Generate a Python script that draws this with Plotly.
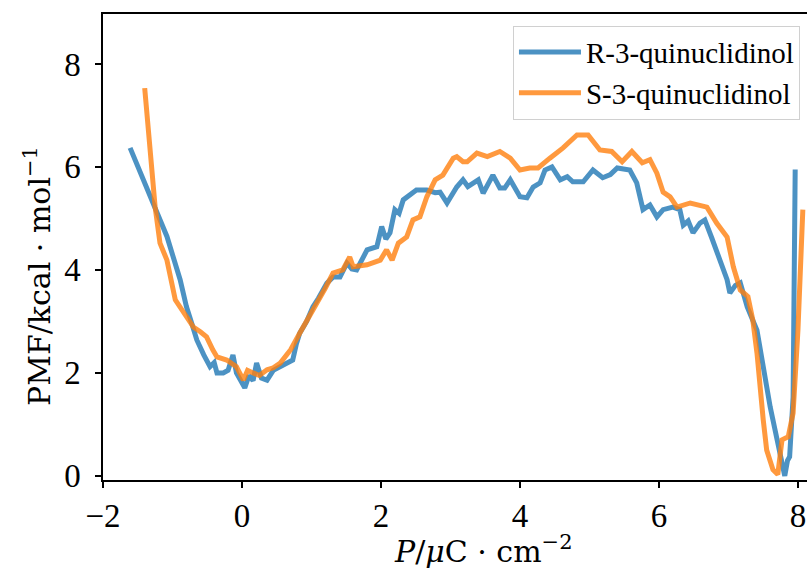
import plotly.graph_objects as go

r_x = [-1.61, -1.28, -1.08, -0.89, -0.80, -0.72, -0.65, -0.55, -0.46, -0.40, -0.36, -0.27, -0.20, -0.13,
       -0.08, 0.04, 0.10, 0.16, 0.21, 0.28, 0.36, 0.45, 0.55, 0.63, 0.73, 0.78, 0.83, 0.93, 1.02, 1.10,
       1.22, 1.31, 1.41, 1.51, 1.58, 1.65, 1.80, 1.94, 2.01, 2.07, 2.13, 2.20, 2.26, 2.32, 2.42, 2.51,
       2.66, 2.78, 2.85, 2.95, 3.09, 3.18, 3.25, 3.32, 3.40, 3.47, 3.61, 3.71, 3.78, 3.86, 4.00, 4.10,
       4.19, 4.29, 4.36, 4.46, 4.58, 4.68, 4.76, 4.91, 5.00, 5.05, 5.19, 5.30, 5.40, 5.58, 5.68, 5.77,
       5.87, 5.97, 6.06, 6.20, 6.30, 6.35, 6.42, 6.49, 6.59, 6.66, 6.76, 6.82, 6.88, 6.98, 7.02, 7.10,
       7.17, 7.27, 7.41, 7.50, 7.60, 7.70, 7.75, 7.78, 7.81, 7.85, 7.88, 7.93, 7.96]
r_y = [6.37, 5.30, 4.65, 3.81, 3.29, 2.95, 2.64, 2.35, 2.12, 2.20, 2.00, 2.00, 2.05, 2.35,
       2.00, 1.71, 1.95, 1.85, 2.19, 1.90, 1.86, 2.05, 2.12, 2.20, 2.25, 2.55, 2.77, 3.00, 3.28, 3.45,
       3.74, 3.86, 3.86, 4.13, 4.02, 4.00, 4.39, 4.45, 4.84, 4.60, 4.72, 5.17, 5.10, 5.36, 5.45, 5.55,
       5.55, 5.50, 5.51, 5.30, 5.61, 5.75, 5.62, 5.69, 5.75, 5.49, 5.84, 5.59, 5.59, 5.75, 5.42, 5.40,
       5.61, 5.69, 5.94, 6.00, 5.75, 5.81, 5.71, 5.71, 5.84, 5.94, 5.79, 5.85, 5.98, 5.94, 5.69, 5.17,
       5.26, 5.03, 5.17, 5.22, 5.17, 4.87, 4.95, 4.72, 4.91, 4.97, 4.62, 4.40, 4.13, 3.81, 3.55, 3.70,
       3.75, 3.28, 2.83, 2.12, 1.34, 0.70, 0.40, 0.17, 0.00, 0.30, 0.37, 1.53, 5.95]

s_x = [-1.40, -1.25, -1.18, -1.08, -0.96, -0.84, -0.70, -0.60, -0.51, -0.42, -0.36, -0.22, -0.08,
       0.02, 0.08, 0.16, 0.25, 0.36, 0.45, 0.55, 0.70, 0.83, 0.95, 1.08, 1.20, 1.31, 1.45, 1.55, 1.60,
       1.80, 1.99, 2.08, 2.16, 2.25, 2.37, 2.46, 2.56, 2.66, 2.78, 2.89, 3.04, 3.09, 3.18, 3.24, 3.38,
       3.53, 3.71, 3.86, 4.00, 4.14, 4.26, 4.43, 4.62, 4.82, 4.98, 5.15, 5.32, 5.47, 5.61, 5.76, 5.87,
       5.97, 6.06, 6.16, 6.26, 6.45, 6.60, 6.69, 6.83, 6.98, 7.07, 7.17, 7.28, 7.35, 7.41, 7.45, 7.50,
       7.55, 7.64, 7.71, 7.77, 7.86, 7.93, 8.00, 8.07]
s_y = [7.53, 5.22, 4.52, 4.19, 3.42, 3.16, 2.89, 2.80, 2.70, 2.45, 2.31, 2.25, 2.12,
       1.86, 2.05, 2.00, 1.95, 2.06, 2.10, 2.19, 2.45, 2.77, 3.05, 3.36, 3.65, 3.94, 4.00, 4.25, 4.06,
       4.10, 4.19, 4.39, 4.19, 4.52, 4.64, 4.97, 5.03, 5.42, 5.75, 5.84, 6.17, 6.20, 6.10, 6.10, 6.27,
       6.20, 6.30, 6.17, 5.94, 5.98, 5.98, 6.17, 6.37, 6.62, 6.62, 6.33, 6.30, 6.10, 6.30, 6.08, 6.14,
       5.88, 5.51, 5.42, 5.22, 5.30, 5.25, 5.22, 4.91, 4.64, 4.06, 3.61, 3.48, 3.03, 2.39, 1.73, 1.09,
       0.50, 0.12, 0.03, 0.70, 0.76, 1.22, 2.84, 5.17]

series_names = ["R-3-quinuclidinol", "S-3-quinuclidinol"]
x_ticks = [-2, 0, 2, 4, 6, 8]
y_ticks = [0, 2, 4, 6, 8]
x_title = "<i>P</i>/<i>μ</i>C \u00b7 cm<sup>\u22122</sup>"
y_title = "PMF/kcal \u00b7 mol<sup>\u22121</sup>"

FONT = "Liberation Serif"
TFONT = "DejaVu Serif"

fig = go.Figure()
fig.add_trace(go.Scatter(x=r_x, y=r_y, mode="lines", name=series_names[0],
                         line=dict(color="rgba(31,119,180,0.8)", width=5)))
fig.add_trace(go.Scatter(x=s_x, y=s_y, mode="lines", name=series_names[1],
                         line=dict(color="rgba(255,127,14,0.8)", width=5)))

fig.update_layout(
    width=807, height=585,
    margin=dict(l=103, r=0, t=14, b=105),
    paper_bgcolor="white", plot_bgcolor="white",
    font=dict(family=FONT, color="black"),
    showlegend=True,
    legend=dict(x=0.99, y=0.975, xanchor="right", yanchor="top",
                bgcolor="rgba(255,255,255,0.8)", bordercolor="#d0d0d0", borderwidth=1,
                itemwidth=62, tracegroupgap=0,
                font=dict(family=FONT, size=29)),
    xaxis=dict(range=[-2, 8.13], tickvals=x_ticks, ticktext=["\u22122" if v < 0 else str(v) for v in x_ticks],
               showgrid=False, zeroline=False, showline=True, linecolor="black", linewidth=1.5,
               mirror=True, ticks="outside", ticklen=6, tickwidth=1.5, tickcolor="black",
               tickfont=dict(family=FONT, size=33)),
    yaxis=dict(range=[-0.08, 8.97], tickvals=y_ticks,
               showgrid=False, zeroline=False, showline=True, linecolor="black", linewidth=1.5,
               mirror=False, ticks="outside", ticklen=6, tickwidth=1.5, tickcolor="black",
               ticklabelstandoff=8,
               tickfont=dict(family=FONT, size=33)),
    annotations=[
        dict(text=x_title, xref="paper", yref="paper", x=(483 - 103) / 704, y=(480 - 549) / 466,
             xanchor="center", yanchor="middle", showarrow=False, font=dict(family=TFONT, size=30)),
        dict(text=y_title, xref="paper", yref="paper", x=(37 - 103) / 704, y=(480 - 276) / 466,
             xanchor="center", yanchor="middle", textangle=-90, showarrow=False,
             font=dict(family=TFONT, size=30)),
    ],
)

fig.write_html("out.html")
